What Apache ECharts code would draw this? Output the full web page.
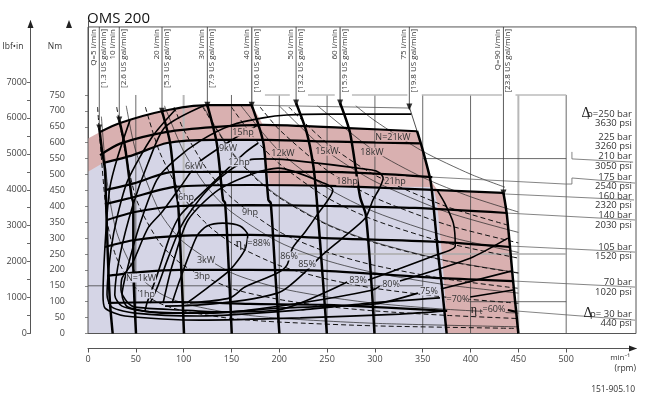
<!DOCTYPE html>
<html>
<head>
<meta charset="utf-8">
<script src="https://cdn.jsdelivr.net/npm/echarts@6/dist/echarts.min.js"></script>
<style>
  html,body{margin:0;padding:0;background:#fff}
  #chart{width:650px;height:406px}
</style>
</head>
<body>
<div id="chart"></div>
<script>
// all curves are [rpm, Nm]
const rpmTicks = [0,50,100,150,200,250,300,350,400,450,500]
const nmTicks = [0,50,100,150,200,250,300,350,400,450,500,550,600,650,700,750]
const lbfLabels = [0,1000,2000,3000,4000,5000,6000,7000]
const lbfTicks = [0,500,1000,1500,2000,2500,3000,3500,4000,4500,5000,5500,6000,6500,7000]

const areaAll = [[0,613],[12.6,634],[33.5,662],[77.4,699],[124.5,718],[171.5,718],[183,656],[272,646],[344,636],[350,577],[358,483],[366,448],[434,442],[438,373],[444.5,162],[450,0],[0,0]]
const areaLow = [[0,509],[15.7,536],[47,561],[82.6,599],[131,609],[183,609],[190,464],[361,461],[365,410],[370,253],[373,130],[375.5,0],[0,0]]

const q5 = [[11.8,646],[14.6,577],[17.8,514],[18.8,420],[20.9,231],[23,96],[25.8,0]]
const q10 = [[32.7,671],[38.7,587],[45.7,429],[47.4,411],[47.4,222],[50.2,0]]
const q20 = [[77.4,699],[85.8,600],[91,461],[94.1,411],[96.2,295],[100.4,0]]
const q30 = [[124.8,718],[134.6,599],[141.2,420],[143.3,411],[146.4,253],[150.3,0]]
const q40 = [[171.2,718],[183.4,599],[188.6,420],[191.1,410],[195.6,200],[200.1,0]]
const q50 = [[217.6,725],[228.8,631],[235.7,525],[239.2,420],[245.8,162],[249.7,0]]
const q60 = [[263.6,725],[274,631],[284.5,429],[290.5,373],[296.7,143],[299.5,0]]
const q75top = [[336,712],[344,637]]
const q75 = [[344,637],[350,577],[358,483],[361,410],[366,253],[370,149],[375,0]]
const q90 = [[434.4,442],[438,373],[444.6,162],[450,0]]
// thin part of every flow line, from the frame down to its arrow
const qRpm = [11.8,32.7,77.4,124.8,171.2,217.6,263.6,336,434.4]
const qNm = [646,671,699,718,718,725,725,712,442]

const p250 = [[12.6,634],[33.5,662],[77.4,699],[124.5,718],[171.5,718]]
const p250top = [[171.5,718],[336,709]]
const p225 = [[12.6,561],[33.5,597],[82.6,634],[131,649],[183,656],[272,646],[344,636]]
const p210 = [[15.7,536],[47,561],[82.6,599],[131,609],[187,609],[248,604],[347,598]]
const p175 = [[17.8,451],[49,473],[89,508],[153.8,508],[187,508],[248,508],[360,492]]
const p160 = [[17.8,407],[44,426],[91,461],[169,467],[253,464],[342,454],[434,442]]
const p140 = [[19.9,357],[49,382],[96,401],[169,404],[253,401],[342,395],[438,379]]
const p105 = [[17.8,272],[49,294],[96,307],[169,310],[248,300],[366,288],[441,272]]
const p70 = [[19.9,181],[54,193],[96,200],[169,200],[248,197],[370,174],[444.5,165]]
const p30 = [[20.9,96],[96,99],[169,93],[248,90],[375.5,71]]
const p30end = [[439,74],[448,68]]

const eta60 = [[43.9,671],[31,555],[23,461],[18.8,325],[15.7,121],[17.8,80],[38.7,55],[117,42],[222,49],[326,61],[375.5,71]]
const eta70 = [[91,703],[67,618],[41.8,483],[31,373],[24,263],[19.9,121],[25,83],[49,64],[117,55],[222,74],[295,96],[368,112]]
const eta70end = [[399.6,115],[444.5,137]]
const eta75 = [[122,718],[80.5,649],[62.8,536],[47,404],[33.5,247],[28,121],[35.6,86],[65,68],[127.6,64],[201,80],[300,93],[345,127]]
const eta75end = [[369,140],[443.5,197]]
const eta80 = [[338,690],[248,690],[208,687],[183,678],[150.6,656],[119,609],[91,546],[72,483],[54,341],[40.8,200],[35.6,121],[41.8,83],[80.5,64],[148.5,68],[222,96],[298,137],[305,149]]
const eta80end = [[326,165],[399.6,237],[439,300]]
const eta83 = [[178,656],[150.6,609],[115,536],[98,467],[77.4,382],[62.8,332],[47,225],[35.6,174],[34.5,137],[41.8,96],[49,83],[96,74],[138,68],[199,74],[271,162]]
const eta83end = [[293,168],[361,244],[384,275],[382,347],[373,410],[365,451]]
const eta84 = [[59.6,71],[61.7,96],[72,181],[85.8,307],[96,370],[112,420],[164,568],[178,599]]
const eta85 = [[65,96],[73,149],[83.7,237],[98,341],[122,442],[148.5,514],[169,546],[182,549],[209,546],[297,514],[305,505],[308.6,489],[305,458],[298,420],[290,363],[266,300],[245,247],[227,193],[209,146],[198,127],[164,105],[117,90],[80.5,86]]
const eta86 = [[78.5,96],[87.9,212],[104.6,357],[136,451],[174.7,505],[199,520],[251,467],[256,451],[239.5,373],[227,319],[214,269],[208,215],[198,190],[164,146],[148.5,112],[106.7,96]]
const eta88 = [[87.9,96],[96,168],[114,307],[124.5,338],[141,347],[159,338],[167,310],[164,263],[148.5,200],[124.5,143],[103.5,96]]

const kw1 = [[14,682],[20,478],[30,318],[50,191],[75,127],[100,95],[150,64],[200,48],[300,32],[450,21]]
const kw3 = [[40,716],[50,573],[75,382],[100,287],[150,191],[200,143],[250,115],[300,95],[375,76],[450,64]]
const kw6 = [[80,716],[100,573],[125,458],[150,382],[200,287],[250,229],[300,191],[375,153],[450,127]]
const kw9 = [[120,716],[150,573],[175,491],[200,430],[250,344],[300,287],[375,229],[450,191]]
const kw12 = [[160,716],[200,573],[250,458],[300,382],[375,306],[450,255]]
const kw15 = [[200,716],[250,573],[300,478],[375,382],[450,318]]
const kw18 = [[240,716],[300,573],[350,491],[400,430],[450,382]]
const kw21 = [[280,716],[300,669],[350,573],[400,501],[436,460]]

const hp1 = [[10,712],[20,356],[30,237],[50,142],[75,95],[100,71],[150,47],[200,36],[300,24],[450,16]]
const hp3 = [[30,712],[50,427],[75,285],[100,214],[150,142],[200,107],[250,85],[300,71],[375,57],[450,47]]
const hp6 = [[60,712],[75,570],[100,427],[125,342],[150,285],[200,214],[250,171],[300,142],[375,114],[450,95]]
const hp9 = [[90,712],[100,641],[125,513],[150,427],[200,320],[250,256],[300,214],[375,171],[450,142]]
const hp12 = [[120,712],[150,570],[175,488],[200,427],[250,342],[300,285],[375,228],[450,190]]
const hp15 = [[150,712],[175,610],[200,534],[250,427],[300,356],[375,285],[450,237]]
const hp18 = [[180,712],[200,641],[250,513],[300,427],[375,342],[450,285]]
const hp21 = [[210,712],[250,598],[300,498],[375,399],[440,340]]

const gridRpm = [50,150,200,250,300,350,400,500]
const grayRpm = [100,450]
const gray750 = [[185,211],[230,258],[276,334],[349,433],[447,500]]

const lead210 = [[506,571],[506,549],[570,539]]
const lead175 = [[358,492],[499,470],[506,470],[506,489],[572,473]]
const lead160 = [[434,439],[571,420]]
const lead140 = [[436,379],[572,357]]
const lead105 = [[441,275],[572,256]]
const lead70 = [[444.5,165],[572,146]]
const lead30 = [[447,71],[572,42]]

const qNames = ['Q=5 l/min','10 l/min','20 l/min','30 l/min','40 l/min','50 l/min','60 l/min','75 l/min','Q=90 l/min']
const qUs = ['[1.3 US gal/min]','[2.6 US gal/min]','[5.3 US gal/min]','[7.9 US gal/min]','[10.6 US gal/min]','[13.2 US gal/min]','[15.9 US gal/min]','[19.8 US gal/min]','[23.8 US gal/min]']
const qLeft = [94,113,157,202,247,291,335,404,498]
const qRight = [104,124,167,212,257,301,345,414,508]

const FRAME_TOP = 964
const FRAME_RIGHT = 573
const sans = '"Open Sans","Noto Sans",sans-serif'
const serif = '"Liberation Serif",serif'
const PINK = '#d9b0b0'
const LAV = '#d5d5e6'

let series = []
function addLine(data, width, color, z, extra) {
  series.push(Object.assign({
    type: 'line', data: data, symbol: 'none', silent: true, animation: false, z: z,
    smooth: 0.25, lineStyle: {width: width, color: color}
  }, extra || {}))
}
function addStraight(data, width, color, z) {
  addLine(data, width, color, z, {smooth: false})
}
function addArea(points, fill) {
  series.push({
    type: 'custom', data: [0], silent: true, animation: false, z: 1,
    renderItem(params, api) {
      return {type: 'polygon', shape: {points: points.map(p => api.coord(p))}, style: {fill: fill}}
    }
  })
}

addArea(areaAll, PINK)
addArea(areaLow, LAV)

gridRpm.forEach(v => addStraight([[v,750],[v,0]], 0.8, '#444', 2))
grayRpm.forEach(v => addStraight([[v,750],[v,0]], 2, '#b8b8b8', 2))
gray750.forEach(s => addStraight([[s[0],750],[s[1],750]], 1.5, '#bbb', 2))
addStraight([[0,150],[350,150]], 0.8, '#444', 2)
addStraight([[350,550],[500,550]], 0.8, '#444', 2)
addStraight([[375,100],[500,100]], 0.8, '#444', 2)
addStraight([[215,250],[500,250]], 1.5, '#aaa', 2)

;[kw1,kw3,kw6,kw9,kw12,kw15,kw18,kw21].forEach(d => addLine(d, 0.7, '#222', 3))
;[hp1,hp3,hp6,hp9,hp12,hp15,hp18,hp21].forEach(d => addLine(d, 1, '#111', 3, {lineStyle: {width: 1, color: '#111', type: [5,3]}}))

;[lead210,lead175,lead160,lead140,lead105,lead70,lead30].forEach(d => addStraight(d, 0.8, '#666', 3))

// the frame round the field
addStraight([[0,0],[0,FRAME_TOP],[FRAME_RIGHT,FRAME_TOP],[FRAME_RIGHT,0],[0,0]], 1, '#555', 4)

qRpm.forEach((v,i) => addStraight([[v,FRAME_TOP],[v,qNm[i]]], (i==4||i==6) ? 1.4 : 0.8, (i==4||i==6) ? '#777' : '#333', 4))
addStraight(p250top, 0.8, '#555', 4)
addStraight(q75top, 0.8, '#222', 4)

;[eta60,eta70,eta70end,eta75,eta75end,eta80,eta80end,eta83,eta83end,eta84,eta85,eta86,eta88].forEach(d => addLine(d, 1.6, '#000', 5))
;[p250,p225,p210,p175,p160,p140,p105,p70,p30,p30end].forEach(d => addLine(d, 2.2, '#000', 6))
;[q5,q10,q20,q30,q40,q50,q60,q75,q90].forEach(d => addLine(d, 2.5, '#000', 6))

series.push({
  type: 'scatter', silent: true, animation: false, z: 7,
  data: qRpm.map((v,i) => [v, qNm[i]]),
  symbol: 'triangle', symbolSize: [6,7], symbolRotate: 180, itemStyle: {color: '#000'}
})

function txt(text, x, y, size, align, font, color, bg) {
  return {type: 'text', x: x, y: y, z: 20, silent: true, style: {
    text: text, fontSize: size, fontFamily: font || sans, fill: color || '#333',
    align: align || 'center', verticalAlign: 'middle', backgroundColor: bg
  }}
}
function tag(text, x, y, bg) { return txt(text, x, y, 9, 'center', sans, '#333', bg) }
function arrow(pts) { return {type: 'polygon', z: 20, silent: true, shape: {points: pts}, style: {fill: '#222'}} }
let labels = [
  arrow([[30.5,20],[27.5,28],[33.5,28]]), arrow([[69,20],[66,28],[72,28]]), arrow([[637,348.5],[629,345.5],[629,351.5]]),
  txt('OMS 200', 87, 19, 15, 'left', sans, '#111'),
  txt('lbf•in', 13, 47, 8.5), txt('Nm', 55, 47, 8.5),
  txt('min\u207B\u00B9', 630, 358, 8, 'right'), txt('(rpm)', 636, 369, 8.5, 'right'),
  txt('151-905.10', 635, 390, 8.5, 'right'),
  tag('15hp', 243, 132, PINK), tag('9kW', 228, 148, LAV), tag('12hp', 239, 162, LAV), tag('6kW', 194, 166, LAV),
  tag('6hp', 186, 197, LAV), tag('12kW', 283, 153, PINK), tag('15kW', 327, 151, PINK), tag('18kW', 372, 152, PINK),
  tag('N=21kW', 393, 137, PINK), tag('18hp', 347, 181, PINK), tag('21hp', 395, 181, PINK), tag('9hp', 250, 212, LAV),
  tag('3kW', 206, 260, LAV), tag('3hp', 202, 276, LAV), tag('N=1kW', 141, 278, LAV), tag('1hp', 147, 294, LAV),
  tag('86%', 289, 256, LAV), tag('85%', 307, 264, LAV), tag('83%', 358, 280, LAV), tag('80%', 391, 284, LAV),
  tag('75%', 429, 291, LAV), tag('=70%', 458, 299, PINK),
  txt('η', 239, 244, 12, 'center', serif, '#111'), txt('t', 245, 247, 7), tag('=88%', 259, 243, LAV),
  txt('η', 474, 310, 12, 'center', serif, '#111'), txt('t', 481, 312, 7), tag('=60%', 494, 309, PINK),
  txt('Δ', 586, 113, 14, 'center', serif, '#222'), txt('p=250 bar', 632, 114, 9.5, 'right'),
  txt('3630 psi', 632, 123, 9.5, 'right'), txt('225 bar', 632, 137, 9.5, 'right'), txt('3260 psi', 632, 146, 9.5, 'right'),
  txt('210 bar', 632, 156, 9.5, 'right'), txt('3050 psi', 632, 166, 9.5, 'right'), txt('175 bar', 632, 177, 9.5, 'right'),
  txt('2540 psi', 632, 186, 9.5, 'right'), txt('160 bar', 632, 196, 9.5, 'right'), txt('2320 psi', 632, 205, 9.5, 'right'),
  txt('140 bar', 632, 215, 9.5, 'right'), txt('2030 psi', 632, 225, 9.5, 'right'), txt('105 bar', 632, 247, 9.5, 'right'),
  txt('1520 psi', 632, 256, 9.5, 'right'), txt('70 bar', 632, 282, 9.5, 'right'), txt('1020 psi', 632, 292, 9.5, 'right'),
  txt('Δ', 588, 313, 14, 'center', serif, '#222'), txt('p= 30 bar', 632, 314, 9.5, 'right'),
  txt('440 psi', 632, 323, 9.5, 'right')
]
// flow labels stand upright along the top of the frame
qNames.forEach((name,i) => {
  ;[[name, qLeft[i]], [qUs[i], qRight[i]]].forEach(t => {
    labels.push({type: 'text', x: t[1], y: 29, rotation: Math.PI/2, z: 20, silent: true, style: {
      text: t[0], fontSize: 8, fontFamily: sans, fill: '#333', align: 'right', verticalAlign: 'middle'
    }})
  })
})

let tickText = {color: '#444', fontSize: 9, fontFamily: sans, formatter: v => String(v)}
let chart = echarts.init(document.getElementById('chart'), null, {renderer: 'canvas'})
chart.setOption({
  animation: false,
  backgroundColor: '#fff',
  grid: {left: 88, right: 14, top: 21, height: 312.5, show: false},
  xAxis: {
    type: 'value', min: 0, max: FRAME_RIGHT, position: 'bottom', offset: 15,
    axisLine: {show: true, onZero: false, lineStyle: {color: '#555', width: 1}},
    axisTick: {show: true, length: 4, customValues: rpmTicks, lineStyle: {color: '#555'}},
    axisLabel: {show: true, margin: 6, customValues: rpmTicks, ...tickText},
    splitLine: {show: false}
  },
  yAxis: [{
    type: 'value', min: 0, max: 982.7, position: 'left', offset: 19,
    axisLine: {show: true, lineStyle: {color: '#555', width: 1}},
    axisTick: {show: true, length: 3, customValues: nmTicks, lineStyle: {color: '#888'}},
    axisLabel: {show: true, margin: 4, customValues: nmTicks, ...tickText},
    splitLine: {show: false}
  }, {
    type: 'value', min: 0, max: 8697, position: 'left', offset: 58,
    axisLine: {show: true, lineStyle: {color: '#555', width: 1}},
    axisTick: {show: true, length: 3, customValues: lbfTicks, lineStyle: {color: '#666'}},
    axisLabel: {show: true, margin: 3, customValues: lbfLabels, ...tickText},
    splitLine: {show: false}
  }],
  graphic: labels,
  series: series
})
</script>
</body>
</html>
